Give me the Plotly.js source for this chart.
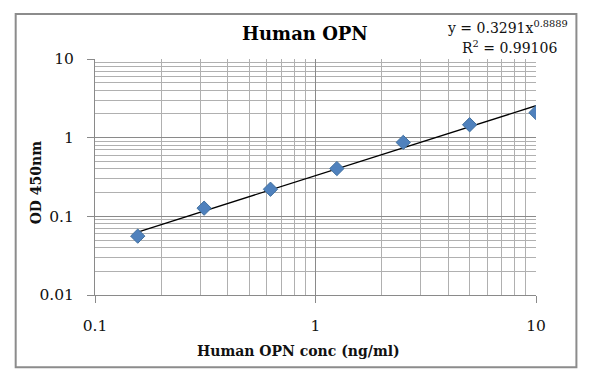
<!DOCTYPE html>
<html><head><meta charset="utf-8">
<script src="https://cdn.plot.ly/plotly-3.0.1.min.js"></script>
<style>html,body{margin:0;padding:0;background:#fff}#chart{width:595px;height:382px}</style>
</head><body><div id="chart"></div>
<script>
const concentrations = [0.15625, 0.3125, 0.625, 1.25, 2.5, 5, 10];
const odValues = [0.056, 0.127, 0.221, 0.405, 0.87, 1.46, 2.08];
const trendX = [0.15625, 10];
const trendY = [0.0632, 2.548];
const xTickVals = [0.1, 1, 10];
const xTickText = ['0.1', '1', '10'];
const yTickVals = [0.01, 0.1, 1, 10];
const yTickText = ['0.01', '0.1', '1', '10'];

const W = 595, H = 382;
const L = 94.5, R = 536.5, T = 59, B = 295.5;
const px = x => (x - L) / (R - L);
const py = y => (B - y) / (B - T);

const serif = 'DejaVu Serif, serif';
const major = '#8a8a8a', minorC = '#b0b0b0';

const traces = [
  {x: trendX, y: trendY, mode: 'lines', line: {color: '#000', width: 1.3}, hoverinfo: 'skip'},
  {x: concentrations, y: odValues, mode: 'markers',
   marker: {symbol: 'diamond', size: 11, color: '#4F81BD', line: {color: '#41709f', width: 1}}}
];

const axisBase = {
  type: 'log', showline: true, linecolor: major, linewidth: 1,
  showgrid: true, gridcolor: major, gridwidth: 1, zeroline: false,
  ticks: 'outside', ticklen: 7, tickcolor: major, tickwidth: 1,
  tickfont: {family: serif, size: 15.5, color: '#111'},
  minor: {showgrid: true, gridcolor: minorC, gridwidth: 1, dtick: 'D1', ticks: ''},
  tickmode: 'array'
};

const layout = {
  width: W, height: H,
  margin: {l: L, r: W - R, t: T, b: H - B, pad: 0},
  paper_bgcolor: '#fff', plot_bgcolor: '#fff',
  showlegend: false,
  xaxis: Object.assign({}, axisBase, {range: [-1, 1], tickvals: xTickVals, ticktext: xTickText,
    ticklabelstandoff: 9}),
  yaxis: Object.assign({}, axisBase, {range: [-2, 1], tickvals: yTickVals, ticktext: yTickText,
    ticklabelstandoff: 10}),
  annotations: [
    {text: '<b>Human OPN</b>', xref: 'paper', yref: 'paper', x: px(305), y: py(33), showarrow: false,
     font: {family: serif, size: 18, color: '#000'}, xanchor: 'center', yanchor: 'middle'},
    {text: 'y = 0.3291x<sup>0.8889</sup>', xref: 'paper', yref: 'paper', x: px(571), y: py(27), showarrow: false,
     font: {family: serif, size: 14, color: '#111'}, xanchor: 'right', yanchor: 'middle'},
    {text: 'R<sup>2</sup> = 0.99106', xref: 'paper', yref: 'paper', x: px(510), y: py(47), showarrow: false,
     font: {family: serif, size: 14, color: '#111'}, xanchor: 'center', yanchor: 'middle'},
    {text: '<b>Human OPN conc (ng/ml)</b>', xref: 'paper', yref: 'paper', x: px(298), y: py(352), showarrow: false,
     font: {family: serif, size: 14, color: '#111'}, xanchor: 'center', yanchor: 'middle'},
    {text: '<b>OD 450nm</b>', xref: 'paper', yref: 'paper', x: px(35), y: py(183), showarrow: false, textangle: -90,
     font: {family: serif, size: 14, color: '#111'}, xanchor: 'center', yanchor: 'middle'}
  ],
  shapes: [
    {type: 'rect', xref: 'paper', yref: 'paper', x0: px(15), x1: px(577), y0: py(368), y1: py(14),
     line: {color: '#8c8c8c', width: 2}, layer: 'below'}
  ]
};

Plotly.newPlot('chart', traces, layout, {displayModeBar: false, staticPlot: true});
</script></body></html>
